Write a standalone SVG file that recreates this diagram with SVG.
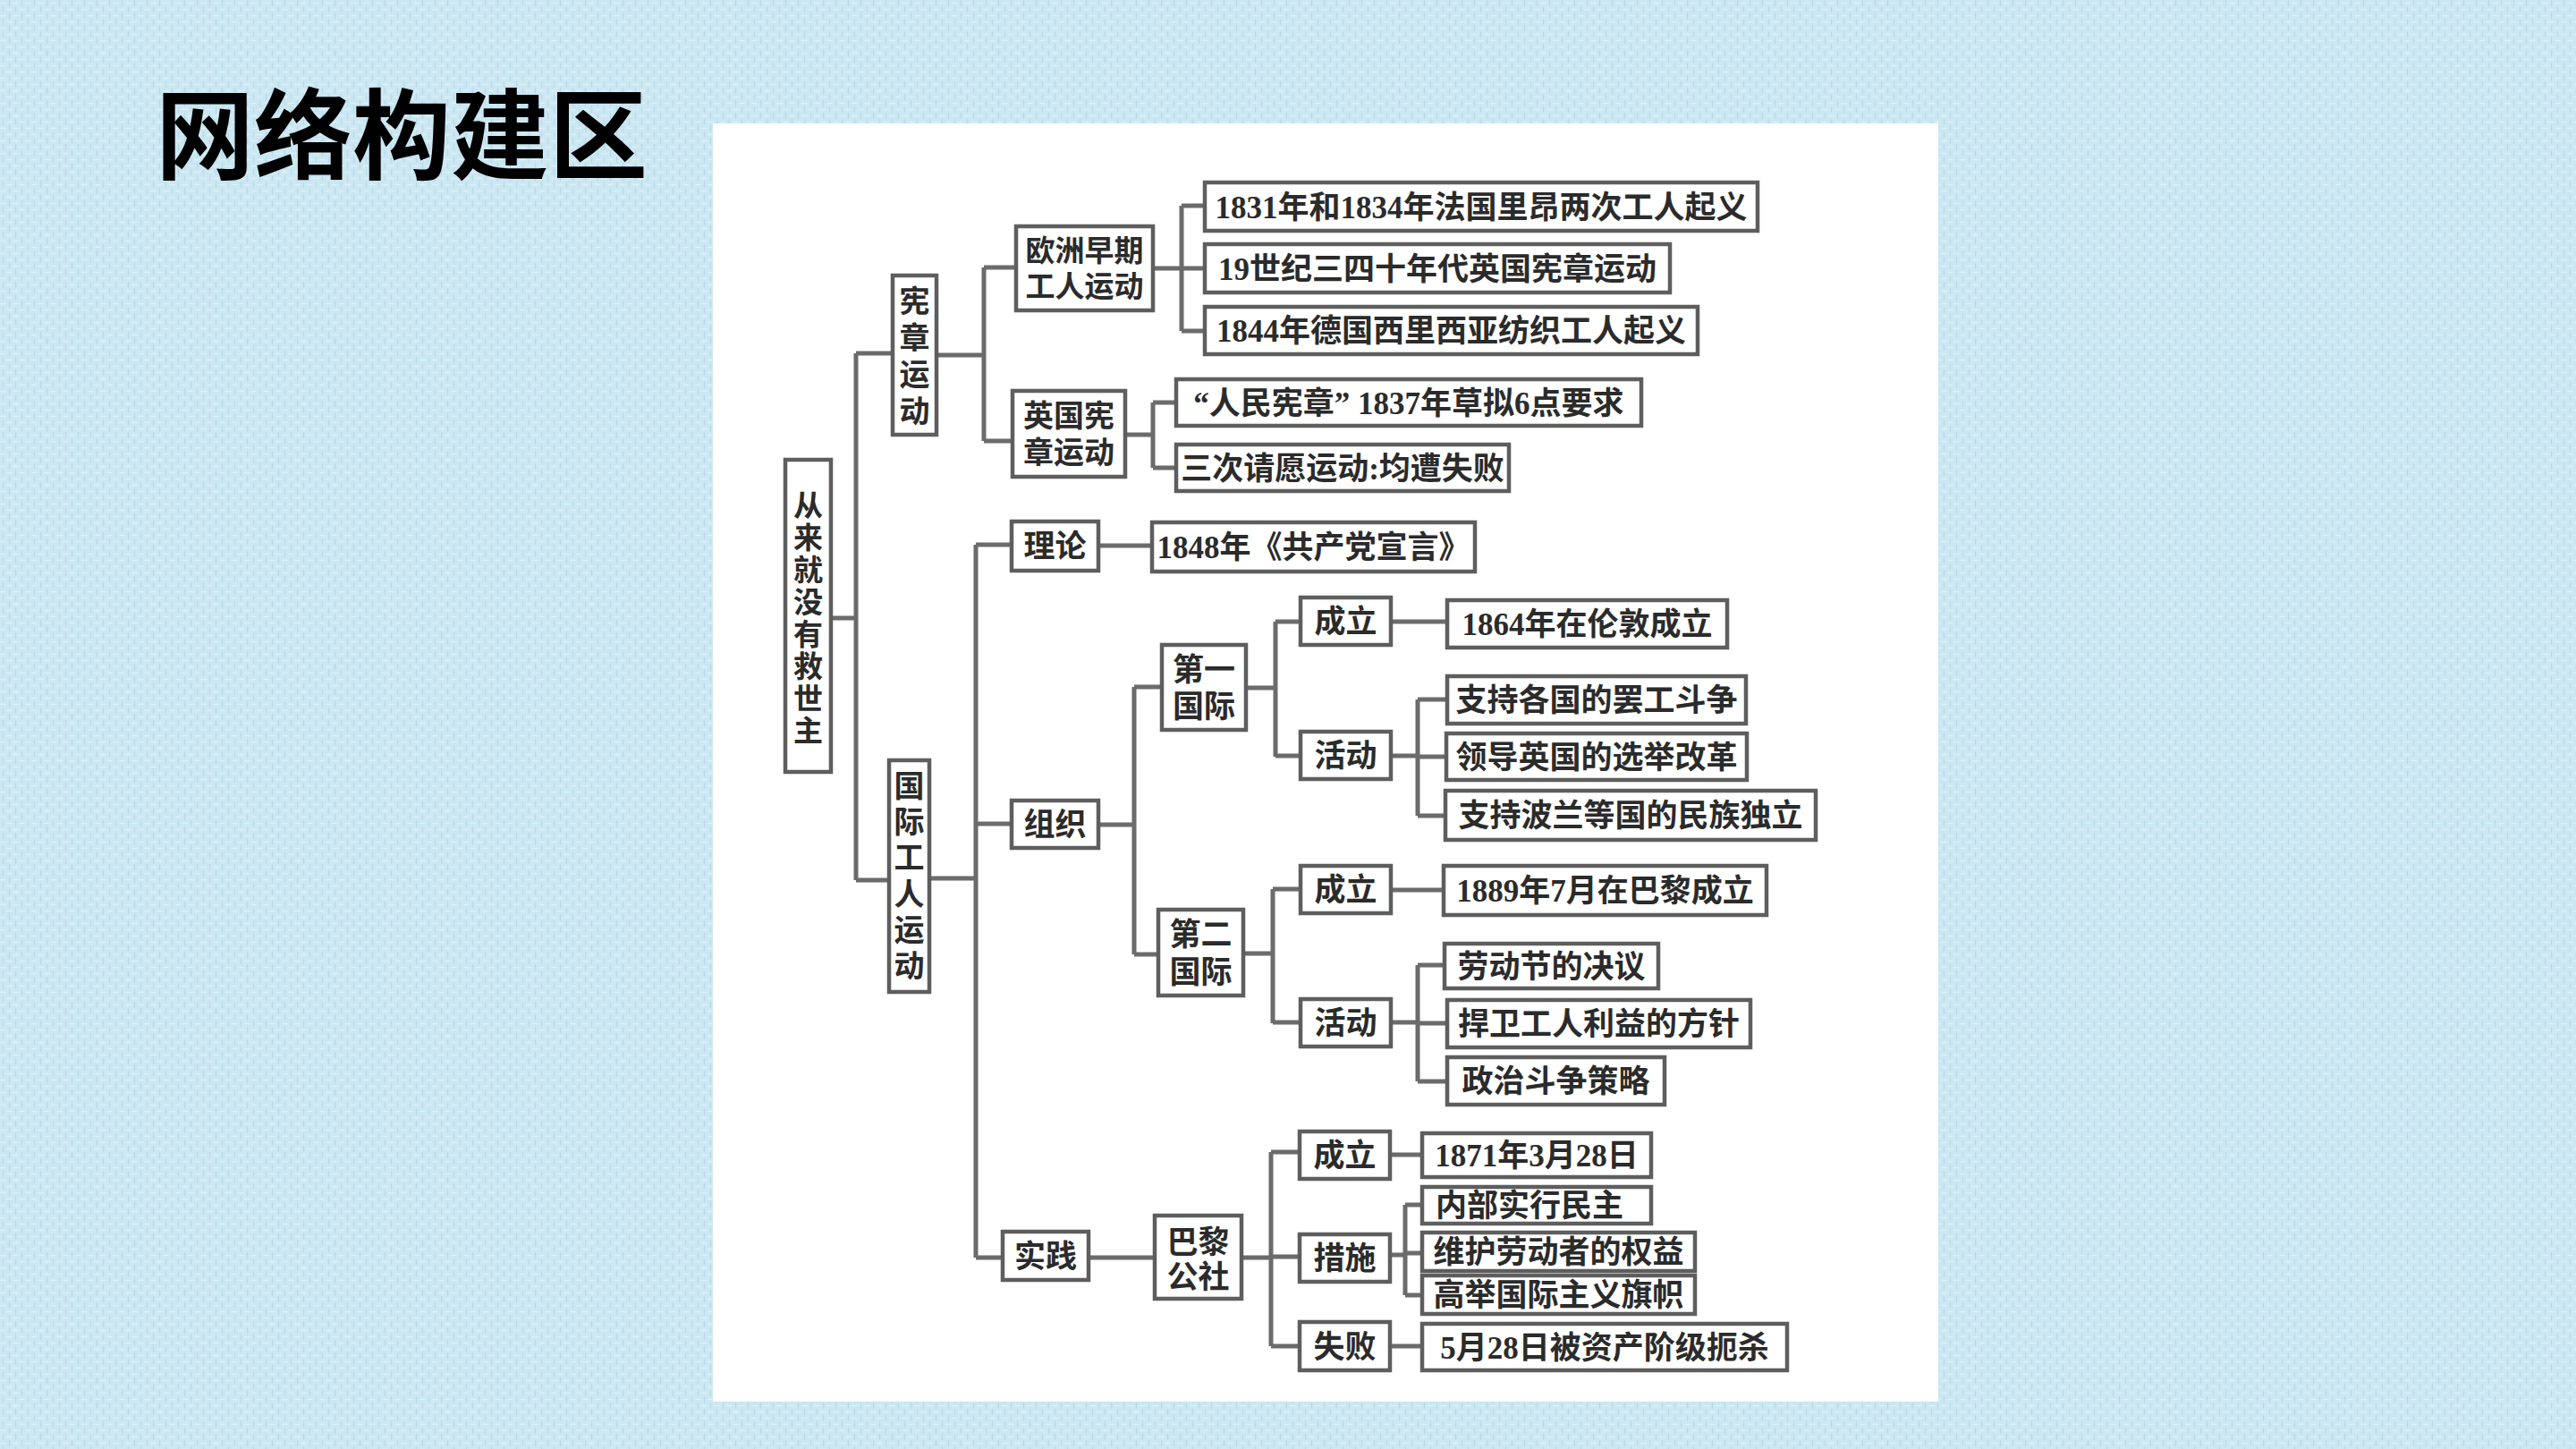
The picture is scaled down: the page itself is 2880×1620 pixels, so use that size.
<svg xmlns="http://www.w3.org/2000/svg" width="2880" height="1620" viewBox="0 0 2880 1620">
<defs>
<pattern id="tex" width="14" height="14" patternUnits="userSpaceOnUse">
<rect width="14" height="14" fill="#cbe7f2"/>
<path d="M0 3.5h7M7 10.5h7" stroke="#dcf0f8" stroke-width="1.6"/>
<path d="M3.5 7v7M10.5 0v7" stroke="#b8dbe9" stroke-width="1.2"/>
</pattern>
</defs>
<style>
.box{fill:#fff;stroke:#5e5e5e;stroke-width:4.5}
.ln{fill:none;stroke:#6b6b6b;stroke-width:5}
.t{font-family:"Liberation Serif","Noto Sans CJK SC",serif;font-size:35px;font-weight:bold;fill:#2b2b2b;text-anchor:middle}
.v{font-size:34px}
.title{font-family:"Noto Sans CJK SC","Noto Sans",sans-serif;font-size:110px;font-weight:bold;fill:#000}
</style>
<rect width="2880" height="1620" fill="url(#tex)"/>
<text class="title" x="174" y="192">网络构建区</text>
<rect x="797" y="138" width="1370" height="1429" fill="#fff"/>

<g id="connectors">
<path class="ln" d="M929 691H957M957 395V984M957 395H998M957 984H994"/>
<path class="ln" d="M1047 397H1100M1100 299V493M1100 299H1136M1100 493H1132"/>
<path class="ln" d="M1289 300H1321M1321 230V370M1321 230H1347M1321 300H1347M1321 370H1347"/>
<path class="ln" d="M1258 486H1289M1289 450V523M1289 450H1315M1289 523H1315"/>
<path class="ln" d="M1039 982H1091M1091 609V1406M1091 609H1131M1091 921H1131M1091 1406H1121"/>
<path class="ln" d="M1228 610H1288"/>
<path class="ln" d="M1228 922H1268M1268 768V1067M1268 768H1299M1268 1067H1295"/>
<path class="ln" d="M1393 769H1426M1426 695V846M1426 695H1454M1426 845H1454"/>
<path class="ln" d="M1555 695H1618"/>
<path class="ln" d="M1555 845H1585M1585 782V912M1585 782H1618M1585 846H1617M1585 912H1616"/>
<path class="ln" d="M1390 1066H1423M1423 994V1144M1423 994H1454M1423 1143H1454"/>
<path class="ln" d="M1555 995H1614"/>
<path class="ln" d="M1555 1143H1585M1585 1079V1209M1585 1079H1615M1585 1144H1618M1585 1209H1618"/>
<path class="ln" d="M1217 1406H1291"/>
<path class="ln" d="M1388 1406H1421M1421 1288V1505M1421 1288H1453M1421 1405H1453M1421 1505H1453"/>
<path class="ln" d="M1554 1291H1590"/>
<path class="ln" d="M1554 1403H1571M1571 1347V1448M1571 1347H1590M1571 1401H1590M1571 1448H1590"/>
<path class="ln" d="M1554 1505H1590"/>
</g>

<g id="root">
<rect class="box" x="878" y="514" width="51" height="349"/>
<text class="t" style="font-size:33px"><tspan x="903.5" y="577">从</tspan><tspan x="903.5" y="613">来</tspan><tspan x="903.5" y="649">就</tspan><tspan x="903.5" y="685">没</tspan><tspan x="903.5" y="721">有</tspan><tspan x="903.5" y="757">救</tspan><tspan x="903.5" y="793">世</tspan><tspan x="903.5" y="829">主</tspan></text>
</g>

<g id="xianzhang">
<rect class="box" x="998" y="308" width="49" height="178"/>
<text class="t v"><tspan x="1022.5" y="349">宪</tspan><tspan x="1022.5" y="390">章</tspan><tspan x="1022.5" y="431">运</tspan><tspan x="1022.5" y="472">动</tspan></text>
</g>

<g id="guoji">
<rect class="box" x="994" y="850" width="45" height="259"/>
<text class="t v"><tspan x="1016.5" y="891">国</tspan><tspan x="1016.5" y="931">际</tspan><tspan x="1016.5" y="971">工</tspan><tspan x="1016.5" y="1012">人</tspan><tspan x="1016.5" y="1052">运</tspan><tspan x="1016.5" y="1092">动</tspan></text>
</g>

<g id="ouzhou">
<rect class="box" x="1136" y="253" width="153" height="94"/>
<text class="t" style="font-size:33px"><tspan x="1212.5" y="292">欧洲早期</tspan><tspan x="1212.5" y="332">工人运动</tspan></text>
</g>

<g id="yingguo">
<rect class="box" x="1132" y="437" width="126" height="96"/>
<text class="t v"><tspan x="1195" y="477">英国宪</tspan><tspan x="1195" y="518">章运动</tspan></text>
</g>

<g id="leaf-1831">
<rect class="box" x="1347" y="204" width="618" height="54"/>
<text class="t" x="1656" y="243.5">1831年和1834年法国里昂两次工人起义</text>
</g>
<g id="leaf-19c">
<rect class="box" x="1347" y="273" width="520" height="54"/>
<text class="t" x="1607" y="312.5">19世纪三四十年代英国宪章运动</text>
</g>
<g id="leaf-1844">
<rect class="box" x="1347" y="343" width="551" height="53"/>
<text class="t" x="1622.5" y="382">1844年德国西里西亚纺织工人起义</text>
</g>
<g id="leaf-charter">
<rect class="box" x="1315" y="424" width="520" height="52"/>
<text class="t" x="1575" y="462.5">“人民宪章” 1837年草拟6点要求</text>
</g>
<g id="leaf-petition">
<rect class="box" x="1315" y="497" width="372" height="52"/>
<text class="t" x="1501" y="535.5">三次请愿运动:均遭失败</text>
</g>

<g id="lilun">
<rect class="box" x="1131" y="583" width="97" height="55"/>
<text class="t" x="1179.5" y="623">理论</text>
</g>
<g id="manifesto">
<rect class="box" x="1288" y="584" width="361" height="55"/>
<text class="t" x="1468.5" y="624">1848年《共产党宣言》</text>
</g>

<g id="zuzhi">
<rect class="box" x="1131" y="895" width="97" height="53"/>
<text class="t" x="1179.5" y="934">组织</text>
</g>

<g id="first-intl">
<rect class="box" x="1299" y="721" width="94" height="95"/>
<text class="t"><tspan x="1346" y="760.5">第一</tspan><tspan x="1346" y="801.5">国际</tspan></text>
</g>
<g id="first-found">
<rect class="box" x="1454" y="668" width="101" height="53"/>
<text class="t" x="1504.5" y="707">成立</text>
</g>
<g id="first-found-leaf">
<rect class="box" x="1618" y="671" width="313" height="53"/>
<text class="t" x="1774.5" y="710">1864年在伦敦成立</text>
</g>
<g id="first-act">
<rect class="box" x="1454" y="818" width="101" height="53"/>
<text class="t" x="1504.5" y="857">活动</text>
</g>
<g id="first-act-1">
<rect class="box" x="1618" y="756" width="334" height="53"/>
<text class="t" x="1785" y="795">支持各国的罢工斗争</text>
</g>
<g id="first-act-2">
<rect class="box" x="1617" y="820" width="336" height="52"/>
<text class="t" x="1785" y="858.5">领导英国的选举改革</text>
</g>
<g id="first-act-3">
<rect class="box" x="1616" y="884" width="414" height="55"/>
<text class="t" x="1823" y="924">支持波兰等国的民族独立</text>
</g>

<g id="second-intl">
<rect class="box" x="1295" y="1017" width="95" height="96"/>
<text class="t"><tspan x="1342.5" y="1056.5">第二</tspan><tspan x="1342.5" y="1098.5">国际</tspan></text>
</g>
<g id="second-found">
<rect class="box" x="1454" y="968" width="101" height="53"/>
<text class="t" x="1504.5" y="1007">成立</text>
</g>
<g id="second-found-leaf">
<rect class="box" x="1614" y="968" width="361" height="55"/>
<text class="t" x="1794.5" y="1008">1889年7月在巴黎成立</text>
</g>
<g id="second-act">
<rect class="box" x="1454" y="1117" width="101" height="53"/>
<text class="t" x="1504.5" y="1156">活动</text>
</g>
<g id="second-act-1">
<rect class="box" x="1615" y="1055" width="239" height="50"/>
<text class="t" x="1734.5" y="1092.5">劳动节的决议</text>
</g>
<g id="second-act-2">
<rect class="box" x="1618" y="1118" width="339" height="53"/>
<text class="t" x="1787.5" y="1157">捍卫工人利益的方针</text>
</g>
<g id="second-act-3">
<rect class="box" x="1618" y="1182" width="243" height="53"/>
<text class="t" x="1739.5" y="1221">政治斗争策略</text>
</g>

<g id="shijian">
<rect class="box" x="1121" y="1377" width="96" height="54"/>
<text class="t" x="1169" y="1416.5">实践</text>
</g>
<g id="commune">
<rect class="box" x="1291" y="1359" width="97" height="93"/>
<text class="t"><tspan x="1339.5" y="1400.5">巴黎</tspan><tspan x="1339.5" y="1439.5">公社</tspan></text>
</g>
<g id="commune-found">
<rect class="box" x="1453" y="1265" width="101" height="53"/>
<text class="t" x="1503.5" y="1304">成立</text>
</g>
<g id="commune-found-leaf">
<rect class="box" x="1590" y="1267" width="256" height="49"/>
<text class="t" x="1718" y="1304">1871年3月28日</text>
</g>
<g id="commune-measure">
<rect class="box" x="1453" y="1380" width="101" height="53"/>
<text class="t" x="1503.5" y="1419">措施</text>
</g>
<g id="measure-1">
<rect class="box" x="1590" y="1327" width="256" height="41"/>
<text class="t" x="1710" y="1360">内部实行民主</text>
</g>
<g id="measure-2">
<rect class="box" x="1590" y="1378" width="305" height="43"/>
<text class="t" x="1742.5" y="1412">维护劳动者的权益</text>
</g>
<g id="measure-3">
<rect class="box" x="1590" y="1426" width="305" height="43"/>
<text class="t" x="1742.5" y="1460">高举国际主义旗帜</text>
</g>
<g id="commune-fail">
<rect class="box" x="1453" y="1478" width="101" height="54"/>
<text class="t" x="1503.5" y="1517.5">失败</text>
</g>
<g id="commune-fail-leaf">
<rect class="box" x="1590" y="1480" width="408" height="52"/>
<text class="t" x="1794" y="1518.5">5月28日被资产阶级扼杀</text>
</g>
</svg>
